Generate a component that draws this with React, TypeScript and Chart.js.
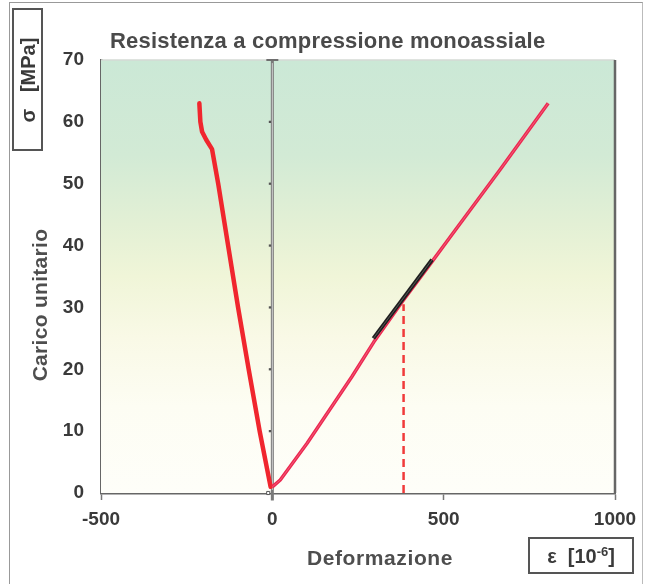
import React, { useEffect, useRef } from "react";
import { Chart, registerables } from "chart.js";

Chart.register(...registerables);

// ---- data ----
const xTickValues = [-500, 0, 500, 1000];
const yTickValues = [0, 10, 20, 30, 40, 50, 60, 70];

// lateral strain (left red curve)
const lateralStrain = [-213, -210, -205, -193, -176, -158, -129, -100, -69, -37, -5];
const lateralStress = [63, 60, 58.4, 57.1, 55.6, 50, 40, 30, 20, 10, 1];

// axial strain (right red curve)
const axialStrain = [0, 23, 101, 232, 296, 380, 466, 519, 665, 805];
const axialStress = [1, 2.1, 8, 18.8, 24.4, 31.0, 37.4, 41.4, 52.3, 63];

// elastic modulus segment (black)
const elasticStrain = [295, 466];
const elasticStress = [25, 37.7];

// reference strain (dashed red)
const refStrain = [383, 383];
const refStress = [0, 30.5];

// zero strain line (grey)
const zeroStrain = [0, 0];
const zeroStress = [-1.2, 70];
const zeroMarkStress = [10, 20, 30, 40, 50, 60];

const FONT = "'Liberation Sans', Arial, sans-serif";

const pts = (xs: number[], ys: number[]) => xs.map((x, i) => ({ x, y: ys[i] }));

export default function App() {
  const ref = useRef<HTMLCanvasElement | null>(null);

  useEffect(() => {
    if (!ref.current) return;
    const bgPlugin = {
      id: "bg",
      beforeDatasetsDraw(chart: any) {
        const { ctx, chartArea: a } = chart;
        const g = ctx.createLinearGradient(0, a.top, 0, a.bottom);
        g.addColorStop(0, "#cbe8d6");
        g.addColorStop(0.22, "#d2ead5");
        g.addColorStop(0.38, "#e3f0d5");
        g.addColorStop(0.5, "#f0f5d8");
        g.addColorStop(0.64, "#f9f9e6");
        g.addColorStop(0.8, "#fdfdf3");
        g.addColorStop(1, "#fefef9");
        ctx.save();
        ctx.fillStyle = g;
        ctx.fillRect(a.left, a.top, a.right - a.left, a.bottom - a.top);
        ctx.strokeStyle = "#d4dad4";
        ctx.lineWidth = 1.5;
        ctx.beginPath();
        ctx.moveTo(a.left, a.top);
        ctx.lineTo(a.right, a.top);
        ctx.stroke();
        ctx.restore();
      },
      afterDraw(chart: any) {
        const { ctx, chartArea: a } = chart;
        ctx.save();
        ctx.strokeStyle = "#666";
        ctx.lineWidth = 2.5;
        ctx.beginPath();
        ctx.moveTo(a.right, a.top);
        ctx.lineTo(a.right, a.bottom);
        ctx.stroke();
        ctx.restore();
      },
    };

    const chart = new Chart(ref.current, {
      type: "scatter",
      data: {
        datasets: [
          {
            label: "zero",
            order: 20,
            data: pts(zeroStrain, zeroStress),
            showLine: true,
            borderColor: "#7a7a7a",
            borderWidth: 3,
            pointRadius: 0,
            clip: false as any,
          },
          {
            label: "zeroInner",
            order: 19,
            data: pts(zeroStrain, zeroStress.map((v, i) => (i === 0 ? 0.5 : 69.5))),
            showLine: true,
            borderColor: "rgba(240,240,240,0.9)",
            borderWidth: 0.8,
            pointRadius: 0,
          },
          {
            label: "zeroMarks",
            order: 18,
            data: zeroMarkStress.map((y) => ({ x: -7, y })),
            showLine: false,
            pointStyle: "rect",
            pointRadius: 1.6,
            backgroundColor: "#555",
            borderColor: "#555",
            borderWidth: 0,
          },
          {
            label: "cap",
            order: 17,
            data: [{ x: 0, y: 70 }],
            showLine: false,
            pointStyle: "line",
            pointRadius: 6,
            borderColor: "#6e6e6e",
            borderWidth: 2,
            clip: false as any,
          },
          {
            label: "origin",
            order: 16,
            data: [{ x: -12, y: 0 }],
            showLine: false,
            pointStyle: "rect",
            pointRadius: 2.2,
            backgroundColor: "#fff",
            borderColor: "#555",
            borderWidth: 1,
            clip: false as any,
          },
          {
            label: "ref",
            order: 15,
            data: pts(refStrain, refStress),
            showLine: true,
            borderColor: "#f03a3a",
            borderWidth: 2.5,
            borderDash: [8, 5],
            pointRadius: 0,
          },
          {
            label: "lateral",
            order: 14,
            data: pts(lateralStrain, lateralStress),
            showLine: true,
            borderColor: "#f0262e",
            borderWidth: 4.5,
            pointRadius: 0,
            tension: 0,
            borderJoinStyle: "round",
            borderCapStyle: "round",
          },
          {
            label: "axial",
            order: 13,
            data: pts(axialStrain, axialStress),
            showLine: true,
            borderColor: "#ec2850",
            borderWidth: 3.5,
            pointRadius: 0,
            tension: 0,
            borderJoinStyle: "round",
          },
          {
            label: "axialInner",
            order: 12,
            data: pts(axialStrain, axialStress),
            showLine: true,
            borderColor: "rgba(255,225,230,0.35)",
            borderWidth: 0.8,
            pointRadius: 0,
            tension: 0,
          },
          {
            label: "elastic",
            order: 11,
            data: pts(elasticStrain, elasticStress),
            showLine: true,
            borderColor: "#1e1e1e",
            borderWidth: 4,
            pointRadius: 0,
          },
          {
            label: "elasticInner",
            order: 10,
            data: pts(elasticStrain, elasticStress),
            showLine: true,
            borderColor: "rgba(150,150,150,0.6)",
            borderWidth: 0.8,
            pointRadius: 0,
          },
        ],
      },
      options: {
        animation: false,
        responsive: false,
        maintainAspectRatio: false,
        layout: { padding: { left: 0, top: 60, right: 34, bottom: 0 } },
        plugins: {
          legend: { display: false },
          tooltip: { enabled: false },
          title: { display: false },
        },
        scales: {
          x: {
            type: "linear",
            min: -500,
            max: 1000,
            afterFit: (s: any) => {
              s.height = 91;
            },
            afterBuildTicks: (s: any) => {
              s.ticks = xTickValues.map((v) => ({ value: v }));
            },
            border: { display: true, color: "#666", width: 2.5 },
            grid: {
              drawOnChartArea: false,
              drawTicks: true,
              tickLength: 7,
              tickWidth: 1.5,
              tickColor: "#777",
            },
            ticks: {
              padding: 8,
              color: "#3a3a3a",
              font: { family: FONT, size: 19, weight: "bold" },
              callback: (v: any) => String(v),
            },
          },
          y: {
            type: "linear",
            min: 0,
            max: 70,
            afterFit: (s: any) => {
              s.width = 101;
            },
            afterBuildTicks: (s: any) => {
              s.ticks = yTickValues.map((v) => ({ value: v }));
            },
            border: { display: true, color: "#666", width: 2.5 },
            grid: { drawOnChartArea: false, drawTicks: false },
            ticks: {
              padding: 17,
              color: "#3a3a3a",
              font: { family: FONT, size: 19, weight: "bold" },
              callback: (v: any) => String(v),
            },
          },
        },
      },
      plugins: [bgPlugin],
    });
    return () => chart.destroy();
  }, []);

  const txt: React.CSSProperties = {
    position: "absolute",
    fontFamily: FONT,
    fontWeight: "bold",
    color: "#4e4e4e",
    whiteSpace: "nowrap",
  };

  return (
    <div
      style={{
        position: "absolute",
        left: 0,
        top: 0,
        width: 649,
        height: 584,
        background: "#fff",
        overflow: "hidden",
      }}
    >
      <div
        style={{
          position: "absolute",
          left: 9,
          top: 2,
          width: 632,
          height: 600,
          borderLeft: "1.5px solid #999",
          borderTop: "1.5px solid #999",
          borderRight: "1.5px solid #bbb",
        }}
      />
      <canvas ref={ref} width={649} height={584} style={{ position: "absolute", left: 0, top: 0 }} />
      <div style={{ ...txt, left: 110, top: 28, fontSize: 22, letterSpacing: 0.2, color: "#4a4a4a" }}>
        Resistenza a compressione monoassiale
      </div>
      <div
        style={{
          ...txt,
          left: 40,
          top: 305,
          fontSize: 21,
          letterSpacing: 0.3,
          transform: "translate(-50%, -50%) rotate(-90deg)",
        }}
      >
        Carico unitario
      </div>
      <div
        style={{
          ...txt,
          left: 380,
          top: 558,
          fontSize: 21,
          letterSpacing: 0.6,
          transform: "translate(-50%, -50%)",
        }}
      >
        Deformazione
      </div>
      <div
        style={{
          position: "absolute",
          left: 12,
          top: 8,
          width: 27,
          height: 139,
          border: "2px solid #555",
        }}
      >
        <div
          style={{
            ...txt,
            left: "50%",
            top: "50%",
            fontSize: 20,
            color: "#3a3a3a",
            transform: "translate(-50%, -50%) rotate(-90deg)",
          }}
        >
          σ&nbsp;&nbsp;&nbsp;[MPa]
        </div>
      </div>
      <div
        style={{
          position: "absolute",
          left: 528,
          top: 537,
          width: 102,
          height: 33,
          border: "2px solid #555",
        }}
      >
        <div
          style={{
            ...txt,
            left: "50%",
            top: "50%",
            fontSize: 20,
            color: "#3a3a3a",
            transform: "translate(-50%, -50%)",
          }}
        >
          ε&nbsp;&nbsp;[10<sup style={{ fontSize: 13, verticalAlign: "7px", lineHeight: 0 }}>-6</sup>]
        </div>
      </div>
    </div>
  );
}
